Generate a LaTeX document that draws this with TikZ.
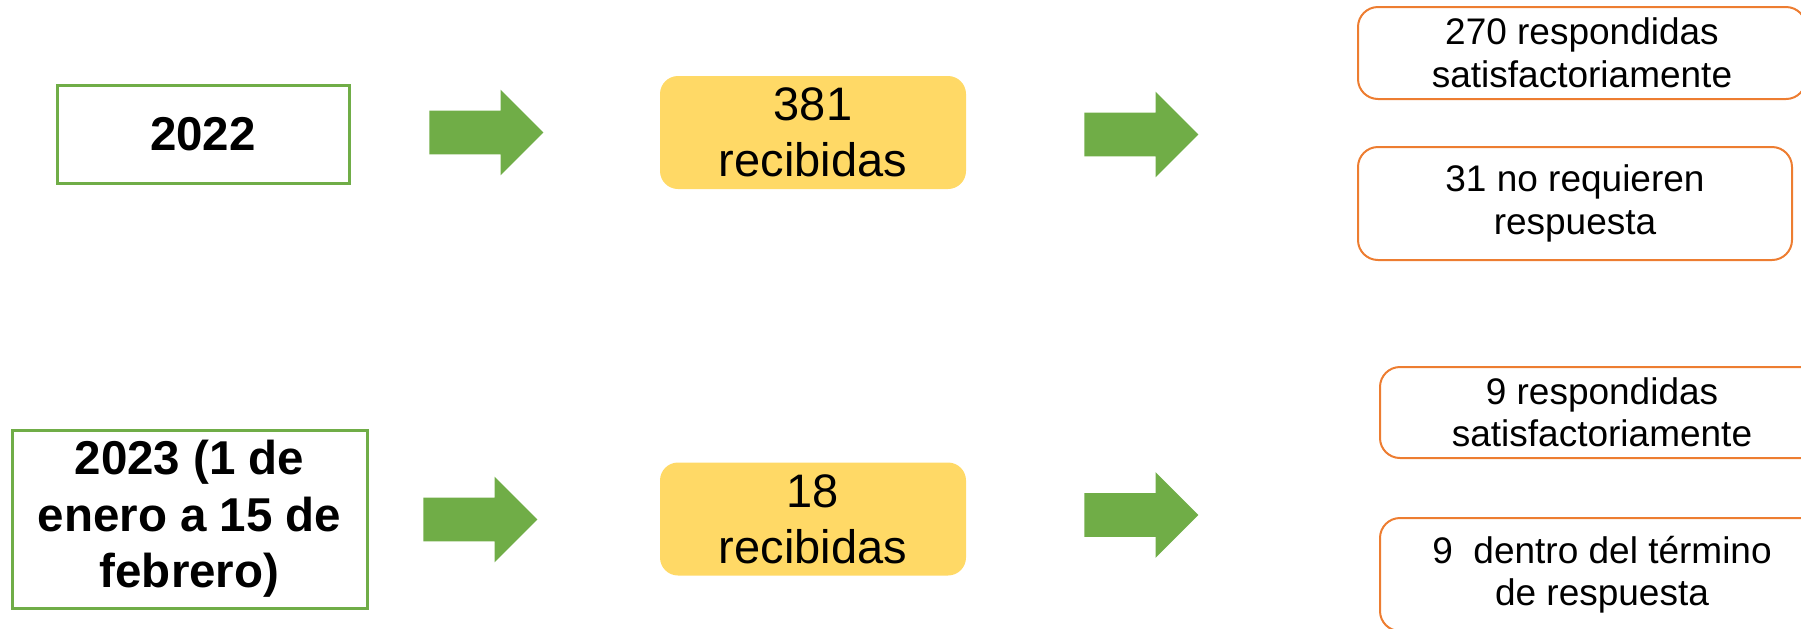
\documentclass[tikz,border=0pt]{standalone}
\usepackage{fontspec}
\setmainfont{Liberation Sans}
\usetikzlibrary{shapes.arrows}
\definecolor{verde}{HTML}{70AD47}
\definecolor{amarillo}{HTML}{FFD966}
\definecolor{naranja}{HTML}{ED7D31}
\begin{document}
\begin{tikzpicture}
        [x=0.5pt,y=-0.5pt]
            \tikzstyle{anio}=[rectangle, draw=verde, line width=1.5pt, fill=white,
        align=center, inner sep=0pt, font=\bfseries\fontsize{23.75}{28.25}\selectfont]
            \tikzstyle{total}=[rectangle, rounded corners=9pt, fill=amarillo,
        align=center, inner sep=0pt, minimum width=153pt, minimum height=56.5pt,
        font=\fontsize{23.5}{28}\selectfont]
            \tikzstyle{estado}=[rectangle, rounded corners=10pt, draw=naranja, line width=1pt,
        align=center, inner sep=0pt, font=\fontsize{18.5}{21.25}\selectfont]
            \tikzstyle{flecha}=[single arrow, fill=verde, inner xsep=0pt, inner ysep=10.75pt,
        minimum width=42.5pt, minimum height=57pt, single arrow head extend=10.5pt, anchor=tail]
         \useasboundingbox (0,0) rectangle (1801,628);
        %-----2022
         \node[anio, minimum width=146pt, minimum height=49pt]  (A22) at (203,134) {2022};
         \node[flecha]  (F1) at (429,132.5) {};
         \node[total]  (R22) at (813,132.5) {381\\recibidas};
         \node[flecha]  (F2) at (1084,134.5) {};
         \node[estado, minimum width=224pt, minimum height=46pt]  (S22) at (1582,53) {270 respondidas\\satisfactoriamente};
         \node[estado, minimum width=217pt, minimum height=56.5pt]  (N22) at (1575,203.5) {31 no requieren\\respuesta};
        %-----2023
         \node[anio, minimum width=177.5pt, minimum height=89pt]  (A23) at (189.5,519) {2023 (1 de\\enero a 15 de\\febrero)};
         \node[flecha]  (F3) at (423,519.5) {};
         \node[total]  (R23) at (813,519) {18\\recibidas};
         \node[flecha]  (F4) at (1084,515) {};
         \node[estado, minimum width=222pt, minimum height=45.5pt]  (S23) at (1602,412.5) {9 respondidas\\satisfactoriamente};
         \node[estado, minimum width=222pt, minimum height=56.5pt]  (D23) at (1602,574.5) {9~ dentro del término\\de respuesta};

\end{tikzpicture}
\end{document}
